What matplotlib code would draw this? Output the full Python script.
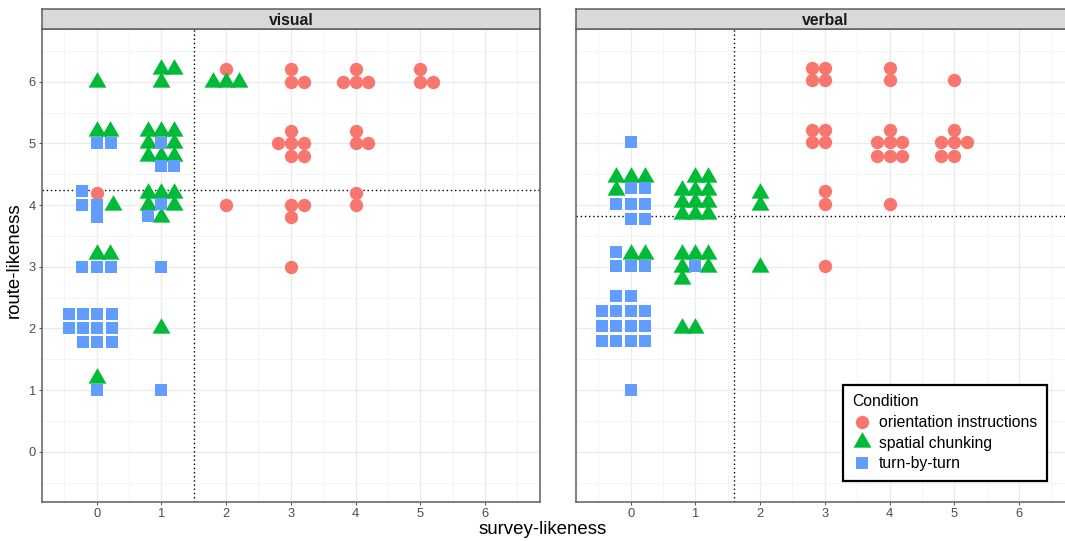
import matplotlib
matplotlib.use("Agg")
import matplotlib.pyplot as plt
from matplotlib import font_manager
from matplotlib.lines import Line2D
from matplotlib.path import Path

# ---------------- data (displayed positions) ----------------
conditions = ["orientation instructions", "spatial chunking", "turn-by-turn"]
panels = ["visual", "verbal"]
x_ticks = [0, 1, 2, 3, 4, 5, 6]
y_ticks = [0, 1, 2, 3, 4, 5, 6]

# visual panel
vis_orient_x = [0, 2, 2, 3, 3, 3.2, 3.8, 4, 4, 4.2, 5, 5, 5.2, 3, 2.8, 3, 3.2, 3, 3.2, 4, 4, 4.2, 3, 3.2, 3, 4, 4, 3]
vis_orient_y = [4.2, 6.2, 4.0, 6.2, 6.0, 6.0, 6.0, 6.2, 6.0, 6.0, 6.2, 6.0, 6.0, 5.2, 5.0, 5.0, 5.0, 4.8, 4.8, 5.2, 5.0, 5.0, 4.0, 4.0, 3.8, 4.2, 4.0, 3.0]
vis_chunk_x = [0, 1, 1, 1.2, 1.8, 2.0, 2.2, 0, 0.2, 0.8, 1.0, 1.2, 0.8, 1.2, 0.8, 1.0, 1.2,
               0.8, 1.0, 1.2, 0.8, 1.2, 1.0, 0.25, 0, 0.2, 1, 0]
vis_chunk_y = [6.0, 6.0, 6.2, 6.2, 6.0, 6.0, 6.0, 5.2, 5.2, 5.2, 5.2, 5.2, 5.0, 5.0, 4.8, 4.8, 4.8,
               4.2, 4.2, 4.2, 4.0, 4.0, 3.8, 4.0, 3.2, 3.2, 2.0, 1.2]
vis_turn_x = [0, 0.22, 1.0, 1.0, 1.2, -0.22, -0.22, 0, 0, 1.0, 0.8, -0.22, 0, 0.22, 1.0,
              -0.43, -0.21, 0, 0.24, -0.43, -0.21, 0, 0.24, -0.21, 0, 0.24, 0, 1.0]
vis_turn_y = [5.0, 5.0, 5.0, 4.63, 4.63, 4.23, 4.0, 4.0, 3.8, 4.02, 3.82, 3.0, 3.0, 3.0, 3.0,
              2.23, 2.23, 2.23, 2.23, 2.0, 2.0, 2.0, 2.0, 1.78, 1.78, 1.78, 1.0, 1.0]

# verbal panel
verb_orient_x = [2.8, 3.0, 2.8, 3.0, 4.0, 4.0, 5.0, 2.8, 3.0, 2.8, 3.0, 4.0, 3.8, 4.0, 4.2, 3.8, 4.0, 4.2,
                 5.0, 4.8, 5.0, 5.2, 4.8, 5.0, 3.0, 3.0, 4.0, 3.0]
verb_orient_y = [6.22, 6.22, 6.02, 6.02, 6.22, 6.02, 6.02, 5.22, 5.22, 5.02, 5.02, 5.22, 5.02, 5.02, 5.02, 4.8, 4.8, 4.8,
                 5.22, 5.02, 5.02, 5.02, 4.8, 4.8, 4.22, 4.02, 4.02, 3.02]
verb_chunk_x = [-0.22, 0, 0.22, -0.22, 1.0, 1.2, 0.8, 1.0, 1.2, 0.8, 1.0, 1.2, 0.8, 1.0, 1.2,
                2.0, 2.0, 0, 0.22, 0.8, 1.0, 1.2, 0.8, 1.2, 0.8, 2.0, 0.8, 1.0]
verb_chunk_y = [4.45, 4.45, 4.45, 4.25, 4.45, 4.45, 4.25, 4.25, 4.25, 4.05, 4.05, 4.05, 3.85, 3.85, 3.85,
                4.2, 4.0, 3.2, 3.2, 3.2, 3.2, 3.2, 3.0, 3.0, 2.8, 3.0, 2.0, 2.0]
verb_turn_x = [0, 0, 0.22, -0.22, 0, 0.22, 0, 0.22, -0.22, -0.22, 0, 0.22, 1.0,
               -0.22, 0, -0.44, -0.22, 0, 0.22, -0.44, -0.22, 0, 0.22, -0.44, -0.22, 0, 0.22, 0]
verb_turn_y = [5.02, 4.27, 4.27, 4.02, 4.02, 4.02, 3.78, 3.78, 3.24, 3.02, 3.02, 3.02, 3.02,
               2.52, 2.52, 2.28, 2.28, 2.28, 2.28, 2.04, 2.04, 2.04, 2.04, 1.8, 1.8, 1.8, 1.8, 1.0]

# reference lines (means)
vis_vline, vis_hline = 1.5, 4.25
verb_vline, verb_hline = 1.6, 3.82

# ---------------- style ----------------
try:
    font_manager.findfont(font_manager.FontProperties(family="Liberation Sans Narrow"),
                          fallback_to_default=False)
    FAM, SC = "Liberation Sans Narrow", 1.0
except Exception:
    FAM, SC = "Liberation Sans", 0.84
plt.rcParams["font.family"] = [FAM, "DejaVu Sans"]

RED, GREEN, BLUE = "#F8766D", "#00BA38", "#619CFF"
colors = [RED, GREEN, BLUE]
tri = Path([(0, 1), (-0.866, -0.5), (0.866, -0.5), (0, 1)],
           [Path.MOVETO, Path.LINETO, Path.LINETO, Path.CLOSEPOLY])
markers = ["o", tri, "s"]
msizes = [9.6, 14.9, 9.2]

W, H = 1065, 541
fig = plt.figure(figsize=(W / 100, H / 100), dpi=100)

def fx(px):
    return px / W

def fy(py):
    return 1 - py / H

AX_W = 498
TOP, BOT, STRIP_TOP = 29.3, 501.7, 9.3
lefts = [42, 576]
XLIM = (-0.845, 6.85)
YLIM = (-0.81, 6.85)
BORDER = "#5E5E5E"

data = {
    "visual": [(vis_orient_x, vis_orient_y), (vis_chunk_x, vis_chunk_y), (vis_turn_x, vis_turn_y)],
    "verbal": [(verb_orient_x, verb_orient_y), (verb_chunk_x, verb_chunk_y), (verb_turn_x, verb_turn_y)],
}
refs = {"visual": (vis_vline, vis_hline), "verbal": (verb_vline, verb_hline)}

axes = []
for i, name in enumerate(panels):
    L = lefts[i]
    ax = fig.add_axes([fx(L), fy(BOT), AX_W / W, (BOT - TOP) / H])
    ax.set_xlim(*XLIM)
    ax.set_ylim(*YLIM)
    ax.set_xticks(x_ticks)
    ax.set_yticks(y_ticks)
    ax.set_xticks([v - 0.5 for v in x_ticks] + [x_ticks[-1] + 0.5], minor=True)
    ax.set_yticks([v - 0.5 for v in y_ticks] + [y_ticks[-1] + 0.5], minor=True)
    ax.grid(which="major", color="#EBEBEB", lw=1.0)
    ax.grid(which="minor", color="#F2F2F2", lw=0.6)
    ax.set_axisbelow(True)
    for s in ax.spines.values():
        s.set_color(BORDER)
        s.set_linewidth(1.1)
    ax.tick_params(which="minor", length=0)
    ax.tick_params(which="major", length=2.5, width=0.6, color="#333333",
                   labelsize=11 * SC, labelcolor="#4D4D4D", pad=2)
    if i == 1:
        ax.tick_params(axis="y", left=False, labelleft=False)

    vx, hy = refs[name]
    ax.axvline(vx, color="black", lw=1.0, ls=(0, (1, 2.0)), zorder=1)
    ax.axhline(hy, color="black", lw=1.0, ls=(0, (1, 2.0)), zorder=1)

    # drawing order: squares, circles, triangles
    for k in [2, 0, 1]:
        xs, ys = data[name][k]
        ax.plot(xs, ys, ls="none", marker=markers[k], markersize=msizes[k],
                color=colors[k], markeredgewidth=0, zorder=3 + k * 0.1)

    # strip
    sax = fig.add_axes([fx(L), fy(TOP), AX_W / W, (TOP - STRIP_TOP) / H])
    sax.set_facecolor("#D9D9D9")
    sax.set_xticks([])
    sax.set_yticks([])
    for s in sax.spines.values():
        s.set_color(BORDER)
        s.set_linewidth(1.1)
    sax.text(0.5, 0.45, name, transform=sax.transAxes, ha="center", va="center",
             fontsize=13.5 * SC, fontweight="bold", color="#1A1A1A")
    axes.append(ax)

fig.text(fx(543), fy(530), "survey-likeness", ha="center", va="center", fontsize=16 * SC, color="black")
fig.text(fx(14), fy(260), "route-likeness", ha="center", va="center", rotation=90,
         fontsize=16 * SC, color="black")

handles = [Line2D([], [], ls="none", marker=markers[k], markersize=msizes[k], color=colors[k],
                  markeredgewidth=0) for k in range(3)]
leg = axes[1].legend(handles, conditions, title="Condition", loc="upper left",
                     bbox_to_anchor=(fx(843), fy(385)), bbox_transform=fig.transFigure,
                     borderaxespad=0, frameon=True, fancybox=False, fontsize=13.5 * SC,
                     title_fontsize=13.5 * SC, labelspacing=0.36, handletextpad=0.5,
                     handlelength=1.2, borderpad=0.6)
leg._legend_box.align = "left"
frame = leg.get_frame()
frame.set_edgecolor("black")
frame.set_linewidth(1.6)
frame.set_facecolor("white")
frame.set_alpha(1)

fig.savefig("out.png", dpi=100)
